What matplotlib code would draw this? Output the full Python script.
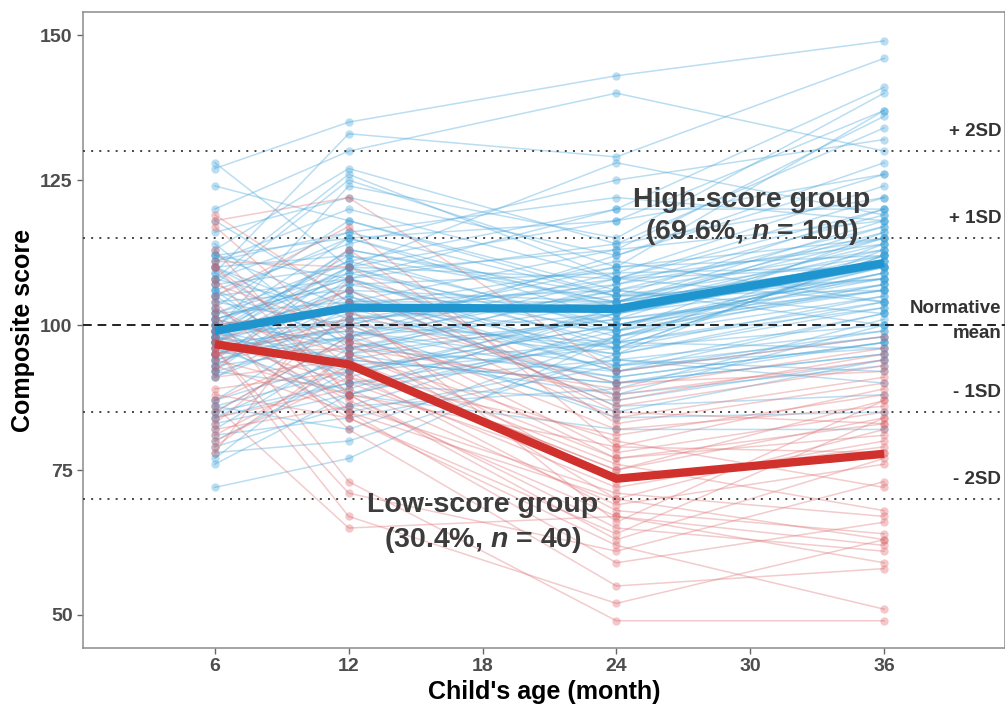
import numpy as np
import matplotlib
matplotlib.use("Agg")
import matplotlib.pyplot as plt

plt.rcParams['font.family'] = ['Liberation Sans', 'DejaVu Sans']
plt.rcParams['mathtext.fontset'] = 'custom'
plt.rcParams['mathtext.it'] = 'Liberation Sans:bold:italic'
plt.rcParams['mathtext.rm'] = 'Liberation Sans:bold'

# ages (months)
ages = [6, 12, 24, 36]

# low-score group (n = 40), one entry per child
low_m6 = [119, 118, 117, 113, 111, 110, 108, 107, 105, 104, 103, 102, 101, 100, 99, 98, 97, 97, 96, 95,
          95, 94, 93, 92, 91, 96, 95, 89, 88, 87, 86, 85, 84, 83, 82, 81, 80, 79, 78, 110]
low_m12 = [104, 122, 97, 88, 110, 93, 85, 99, 117, 82, 91, 73, 95, 103, 87, 84, 106, 90, 67, 96,
           101, 88, 85, 113, 94, 71, 100, 92, 84, 97, 65, 98, 89, 102, 86, 93, 91, 95, 108, 88]
low_m24 = [84, 92, 70, 63, 87, 75, 59, 77, 79, 55, 72, 49, 80, 66, 67, 62, 86, 74, 52, 89,
           78, 65, 70, 83, 76, 61, 82, 68, 64, 88, 67, 73, 69, 90, 71, 75, 81, 77, 85, 79]
low_m36 = [91, 98, 63, 77, 95, 84, 66, 83, 89, 58, 80, 49, 72, 87, 62, 51, 93, 78, 63, 96,
           85, 61, 82, 90, 68, 73, 86, 64, 84, 94, 59, 79, 76, 92, 67, 87, 88, 81, 83, 78]

# high-score group (n = 100)
high_m6 = [128, 127, 124, 120, 118, 116, 114, 113, 112, 112,
           111, 110, 110, 109, 109, 108, 108, 107, 107, 106,
           106, 105, 105, 104, 104, 103, 103, 102, 102, 101,
           101, 101, 100, 100, 100, 99, 99, 99, 98, 98,
           100, 99, 99, 99, 98, 98, 98, 97, 97, 97,
           97, 97, 97, 96, 96, 96, 95, 95, 95, 94,
           94, 94, 93, 93, 93, 92, 92, 92, 91, 91,
           87, 87, 86, 86, 85, 85, 84, 84, 83, 82,
           81, 80, 79, 78, 77, 76, 72, 110, 105, 100,
           112, 102, 99, 97, 95, 108, 106, 101, 98, 111]
high_m12 = [110, 135, 118, 130, 104, 122, 96, 127, 108, 115,
            120, 98, 112, 133, 95, 116, 102, 110, 125, 90,
            114, 92, 115, 106, 100, 118, 88, 111, 104, 108,
            108, 96, 115, 103, 86, 112, 100, 124, 94, 106,
            97, 110, 105, 91, 113, 101, 110, 99, 107, 85,
            109, 93, 104, 101, 99, 88, 106, 98, 102, 110,
            100, 98, 96, 105, 104, 89, 108, 98, 100, 103,
            101, 94, 92, 82, 90, 98, 95, 90, 88, 96,
            84, 92, 86, 80, 95, 88, 77, 101, 108, 111,
            103, 109, 94, 113, 100, 126, 97, 107, 92, 116]
high_m24 = [118, 143, 105, 140, 96, 112, 104, 114, 120, 101,
            108, 112, 99, 129, 88, 122, 95, 108, 110, 97,
            125, 100, 103, 92, 110, 106, 98, 100, 113, 94,
            97, 106, 118, 90, 100, 104, 111, 115, 102, 86,
            108, 98, 92, 103, 105, 96, 128, 93, 99, 94,
            100, 97, 104, 108, 91, 99, 104, 85, 107, 96,
            95, 109, 101, 88, 106, 102, 93, 106, 84, 110,
            104, 90, 96, 98, 87, 102, 101, 94, 103, 92,
            93, 100, 89, 95, 107, 82, 98, 105, 114, 120,
            99, 113, 90, 104, 97, 108, 91, 109, 102, 105]
high_m36 = [137, 149, 120, 130, 112, 128, 108, 134, 141, 115,
            104, 126, 110, 146, 100, 118, 113, 122, 137, 96,
            132, 108, 117, 98, 112, 102, 111, 106, 136, 92,
            114, 100, 126, 95, 109, 118, 104, 140, 112, 88,
            120, 105, 99, 114, 108, 112, 119, 102, 116, 90,
            110, 104, 116, 110, 97, 106, 115, 94, 119, 100,
            103, 124, 107, 93, 113, 110, 98, 117, 85, 115,
            111, 97, 105, 109, 94, 108, 106, 99, 113, 102,
            96, 109, 101, 104, 115, 82, 107, 112, 122, 120,
            107, 118, 95, 111, 103, 114, 97, 110, 110, 106]

ref_levels = [70, 85, 115, 130]
ref_labels = ['- 2SD', '- 1SD', '+ 1SD', '+ 2SD']

blue = '#1f95cf'
red = '#d0312d'
grey_txt = '#4d4d4d'
label_txt = '#3c3c3c'

high = np.array([high_m6, high_m12, high_m24, high_m36]).T
low = np.array([low_m6, low_m12, low_m24, low_m36]).T

fig = plt.figure(figsize=(10.05, 7.04), dpi=100)
ax = fig.add_axes([0.0826, 0.0795, 0.9174, 0.9035])

for row in high:
    ax.plot(ages, row, color='#4aa8dc', alpha=0.38, lw=1.1, zorder=2)
    ax.plot(ages, row, 'o', color='#3aa0d8', alpha=0.35, ms=6, mew=0, zorder=2)
for row in low:
    ax.plot(ages, row, color='#e0777a', alpha=0.38, lw=1.1, zorder=2)
    ax.plot(ages, row, 'o', color='#d9545a', alpha=0.32, ms=6, mew=0, zorder=2)

for lv in ref_levels:
    ax.axhline(lv, color='#444444', lw=1.4, ls=(0, (1, 3.2)), zorder=3)
ax.axhline(100, color='#222222', lw=1.4, ls=(0, (4.5, 3)), zorder=3)

ax.plot(ages, high.mean(axis=0), color=blue, lw=6, solid_capstyle='butt', zorder=4)
ax.plot(ages, low.mean(axis=0), color=red, lw=6, solid_capstyle='butt', zorder=4)

# reference labels on the right
for lv, lab in zip(ref_levels, ref_labels):
    ax.text(41.25, lv + 3.3, lab, ha='right', va='center', fontsize=13.5,
            fontweight='bold', color='#333333', zorder=5)
ax.text(41.25, 102.8, 'Normative', ha='right', va='center', fontsize=13.5,
        fontweight='bold', color='#333333', zorder=5)
ax.text(41.25, 98.6, 'mean', ha='right', va='center', fontsize=13.5,
        fontweight='bold', color='#333333', zorder=5)

ax.text(30.05, 121.6, 'High-score group', ha='center', va='center', fontsize=20.5,
        fontweight='bold', color=label_txt, zorder=5)
ax.text(30.05, 116.1, '(69.6%, $n$ = 100)', ha='center', va='center', fontsize=20.5,
        fontweight='bold', color=label_txt, zorder=5)
ax.text(18, 69.0, 'Low-score group', ha='center', va='center', fontsize=20.5,
        fontweight='bold', color=label_txt, zorder=5)
ax.text(18, 62.9, '(30.4%, $n$ = 40)', ha='center', va='center', fontsize=20.5,
        fontweight='bold', color=label_txt, zorder=5)

ax.set_xlim(0.09, 41.42)
ax.set_ylim(44.3, 154)
ax.set_xticks([6, 12, 18, 24, 30, 36])
ax.set_yticks([50, 75, 100, 125, 150])
ax.tick_params(axis='both', labelsize=14, labelcolor=grey_txt, color='#666666',
               length=4, width=1)
for lab in ax.get_xticklabels() + ax.get_yticklabels():
    lab.set_fontweight('bold')
for sp in ax.spines.values():
    sp.set_color('#8c8c8c')
    sp.set_linewidth(1.1)

ax.set_xlabel("Child's age (month)", fontsize=18, fontweight='bold', labelpad=3)
ax.set_ylabel('Composite score', fontsize=18, fontweight='bold', labelpad=4)

fig.savefig('out.png', dpi=100)
